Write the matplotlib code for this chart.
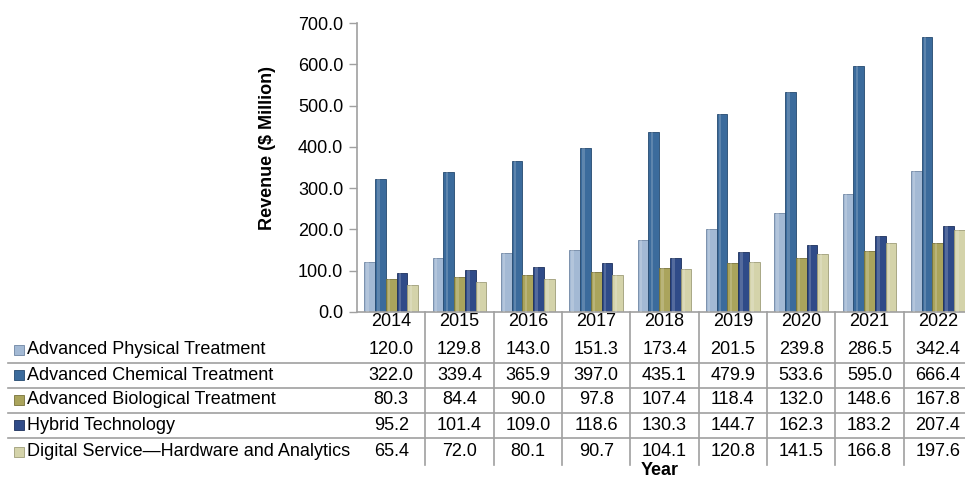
import matplotlib.pyplot as plt
from matplotlib.transforms import blended_transform_factory
from matplotlib.patches import Rectangle
import numpy as np

plt.rcParams['font.family'] = ['Liberation Sans', 'DejaVu Sans']

years = ['2014', '2015', '2016', '2017', '2018', '2019', '2020', '2021', '2022']
series = ['Advanced Physical Treatment', 'Advanced Chemical Treatment',
          'Advanced Biological Treatment', 'Hybrid Technology',
          'Digital Service\u2014Hardware and Analytics']
physical = [120.0, 129.8, 143.0, 151.3, 173.4, 201.5, 239.8, 286.5, 342.4]
chemical = [322.0, 339.4, 365.9, 397.0, 435.1, 479.9, 533.6, 595.0, 666.4]
biological = [80.3, 84.4, 90.0, 97.8, 107.4, 118.4, 132.0, 148.6, 167.8]
hybrid = [95.2, 101.4, 109.0, 118.6, 130.3, 144.7, 162.3, 183.2, 207.4]
digital = [65.4, 72.0, 80.1, 90.7, 104.1, 120.8, 141.5, 166.8, 197.6]
values = [physical, chemical, biological, hybrid, digital]
colors = ['#a3b9d4', '#3b6b9c', '#aaa45c', '#2f4b88', '#d4d3aa']
edges = ['#6f86a3', '#24496f', '#77723a', '#1c2f5c', '#9e9d78']

W, H = 965, 480
fs = 13
fig = plt.figure(figsize=(W / 100, H / 100), dpi=100)
# plot area: axis at x=357, category width ~68.4 px, last column clipped
ax = fig.add_axes([357 / W, 1 - 312 / H, 615 / W, 289 / H])
x = np.arange(len(years))
bw = 0.158
for k, (vals, c, e) in enumerate(zip(values, colors, edges)):
    ax.bar(x + (k - 2) * bw, vals, width=bw, color=c, edgecolor=e, linewidth=0.6, zorder=2)
    # light highlight strip to hint at the glossy bars
    ax.bar(x + (k - 2) * bw - bw * 0.18, vals, width=bw * 0.22, color='white', alpha=0.18,
           linewidth=0, zorder=3)

ax.set_xlim(-0.5, len(years) - 0.5)
ax.set_ylim(0, 700)
ax.set_yticks(np.arange(0, 701, 100))
ax.set_yticklabels([f'{v:.1f}' for v in np.arange(0, 701, 100)], fontsize=fs)
ax.tick_params(axis='y', length=6, color='#a0a0a0', width=1, pad=4)
ax.set_xticks(x)
ax.set_xticklabels(years, fontsize=fs)
ax.tick_params(axis='x', length=0, pad=1)
for s in ['top', 'right']:
    ax.spines[s].set_visible(False)
for s in ['left', 'bottom']:
    ax.spines[s].set_color('#a0a0a0')
    ax.spines[s].set_linewidth(1.2)

fig.text(268 / W, 1 - 148 / H, 'Revenue ($ Million)', rotation=90, fontsize=fs,
         fontweight='bold', ha='center', va='center')

# data table below the axis
tr = blended_transform_factory(ax.transData, fig.transFigure)
row_y = [350, 375, 400, 425, 452]
line_y = [363, 388, 413, 438]
grid = '#a0a0a0'
for ly in line_y:
    fig.add_artist(plt.Line2D([8 / W, 1], [1 - ly / H] * 2, color=grid, lw=1.2))
for i in range(len(years)):
    ax.plot([i + 0.5, i + 0.5], [1 - 312 / H, 1 - 465 / H], color=grid, lw=1.2,
            transform=tr, clip_on=False)
for r, (name, vals, c, e) in enumerate(zip(series, values, colors, edges)):
    yy = 1 - row_y[r] / H
    fig.add_artist(Rectangle((14 / W, yy - 5 / H), 10 / W, 10 / H, facecolor=c,
                             edgecolor=e, lw=0.6, transform=fig.transFigure))
    fig.text(27 / W, yy, name, fontsize=fs, va='center', ha='left')
    for i, v in enumerate(vals):
        ax.text(i, yy, f'{v:.1f}', fontsize=fs, ha='center', va='center',
                transform=tr, clip_on=False)

fig.text(660 / W, 1 / H, 'Year', fontsize=fs, fontweight='bold',
         ha='center', va='bottom')

fig.savefig('out.png', dpi=100, facecolor='white')
